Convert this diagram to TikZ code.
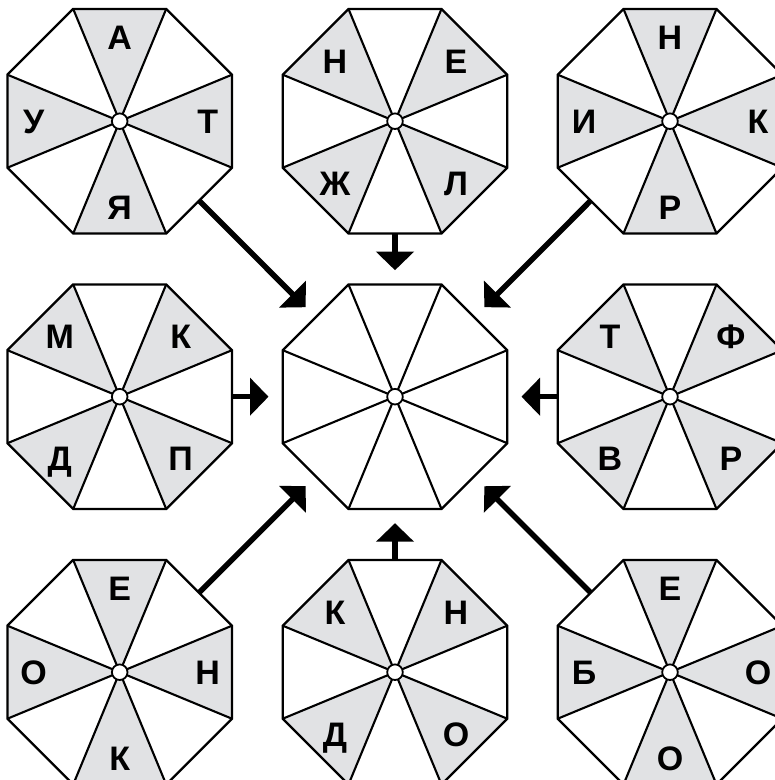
\documentclass[tikz,border=0pt]{standalone}
\usepackage{fontspec}
\setmainfont{Liberation Sans}
\usetikzlibrary{calc,arrows.meta}
\definecolor{sectorgray}{RGB}{225,226,228}
\def\octR{121.55}
\tikzset{
  octline/.style={line width=2.3pt, line join=miter},
  spoke/.style={line width=2.1pt},
  hub/.style={fill=white, draw=black, line width=1.8pt},
  sector/.style={fill=sectorgray},
  letter/.style={font=\fontsize{34}{34}\selectfont\bfseries, inner sep=0pt, text height=24.3pt, text depth=0pt},
  push/.style={line width=5.5pt, -{Triangle[length=18.5pt,width=37pt]}},
}
\newcommand\octsectors[2]{%
  \foreach \a in {#2}{\fill[sector] (#1) -- +(\a-22.5:\octR) -- +(\a+22.5:\octR) -- cycle;}
}
\newcommand\drawoct[1]{%
  \foreach \a in {22.5,67.5,...,337.5}{\draw[spoke] (#1) -- +(\a:\octR);}
  \draw[octline] (#1) +(22.5:\octR) -- +(67.5:\octR) -- +(112.5:\octR) -- +(157.5:\octR) -- +(202.5:\octR) -- +(247.5:\octR) -- +(292.5:\octR) -- +(337.5:\octR) -- cycle;
  \draw[hub] (#1) circle[radius=7.8pt];
}
% cardinal letters: N E S W
\newcommand\cardletters[5]{%
  \node[letter] (#1-n) at ($(#1)+(0,-84)$) {#2};
  \node[letter] (#1-e) at ($(#1)+(88,0)$) {#3};
  \node[letter] (#1-s) at ($(#1)+(0,86)$) {#4};
  \node[letter] (#1-w) at ($(#1)+(-86,0)$) {#5};
}
% diagonal letters: NW NE SW SE
\newcommand\diagletters[5]{%
  \node[letter] (#1-nw) at ($(#1)+(-60,-60)$) {#2};
  \node[letter] (#1-ne) at ($(#1)+(61,-60)$) {#3};
  \node[letter] (#1-sw) at ($(#1)+(-60,62)$) {#4};
  \node[letter] (#1-se) at ($(#1)+(61,62)$) {#5};
}
\begin{document}
\begin{tikzpicture}[x=1pt,y=-1pt]
\useasboundingbox (0,0) rectangle (775,780);
\fill[white] (0,0) rectangle (775,780);
\clip (0,0) rectangle (775,780);
\coordinate (tl) at (119.7,121.2);
\coordinate (tc) at (395,121.2);
\coordinate (tr) at (670,121.2);
\coordinate (ml) at (119.7,396.7);
\coordinate (c)  at (395,396.7);
\coordinate (mr) at (670,396.7);
\coordinate (bl) at (119.7,672.2);
\coordinate (bc) at (395,672.2);
\coordinate (br) at (670,672.2);
% grey sectors (angles: 0=E, 90=S, 180=W, 270=N)
\octsectors{tl}{0,90,180,270}
\octsectors{tc}{45,135,225,315}
\octsectors{tr}{0,90,180,270}
\octsectors{ml}{45,135,225,315}
\octsectors{mr}{45,135,225,315}
\octsectors{bl}{0,90,180,270}
\octsectors{bc}{45,135,225,315}
\octsectors{br}{0,90,180,270}
% outlines
\drawoct{tl}\drawoct{tc}\drawoct{tr}
\drawoct{ml}\drawoct{c}\drawoct{mr}
\drawoct{bl}\drawoct{bc}\drawoct{br}
% letters
\cardletters{tl}{А}{Т}{Я}{У}
\diagletters{tc}{Н}{Е}{Ж}{Л}
\cardletters{tr}{Н}{К}{Р}{И}
\diagletters{ml}{М}{К}{Д}{П}
\diagletters{mr}{Т}{Ф}{В}{Р}
\cardletters{bl}{Е}{Н}{К}{О}
\diagletters{bc}{К}{Н}{Д}{О}
\cardletters{br}{Е}{О}{О}{Б}
% arrows
\foreach \s in {tl,tc,tr,ml,mr,bl,bc,br}{
  \draw[push] ($(\s)!112.3pt!(c)$) -- ($(c)!126.5pt!(\s)$);
}
\end{tikzpicture}
\end{document}
